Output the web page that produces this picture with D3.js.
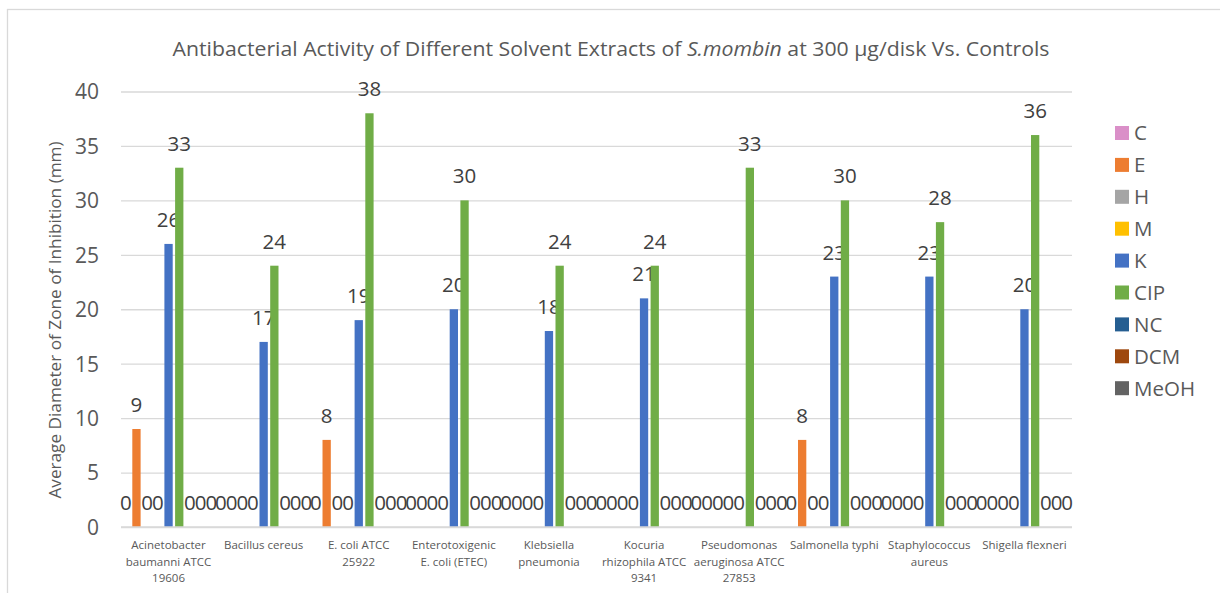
<!DOCTYPE html>
<html>
<head>
<meta charset="utf-8">
<script src="https://cdn.jsdelivr.net/npm/d3@7"></script>
<style>
  html, body { margin: 0; padding: 0; background: #fff; }
  svg { display: block; font-family: "Open Sans", sans-serif; }
</style>
</head>
<body>
<svg id="chart" width="1220" height="593"></svg>
<script>
// Bacterial strains (x-axis labels, pre-wrapped into lines)
const categories = [
  ["Acinetobacter", "baumanni ATCC", "19606"],
  ["Bacillus cereus"],
  ["E. coli ATCC", "25922"],
  ["Enterotoxigenic", "E. coli (ETEC)"],
  ["Klebsiella", "pneumonia"],
  ["Kocuria", "rhizophila ATCC", "9341"],
  ["Pseudomonas", "aeruginosa ATCC", "27853"],
  ["Salmonella typhi"],
  ["Staphylococcus", "aureus"],
  ["Shigella flexneri"]
];

// Extracts and controls
const seriesNames = ["C", "E", "H", "M", "K", "CIP", "NC", "DCM", "MeOH"];
const seriesColors = ["#DA8FC8", "#ED7D31", "#A5A5A5", "#FFC000", "#4472C4", "#70AD47", "#255E91", "#9E480E", "#636363"];

// Zone of inhibition (mm), one array per series, in category order
const C    = [0, 0, 0, 0, 0, 0, 0, 0, 0, 0];
const E    = [9, 0, 8, 0, 0, 0, 0, 8, 0, 0];
const H    = [0, 0, 0, 0, 0, 0, 0, 0, 0, 0];
const M    = [0, 0, 0, 0, 0, 0, 0, 0, 0, 0];
const K    = [26, 17, 19, 20, 18, 21, 0, 23, 23, 20];
const CIP  = [33, 24, 38, 30, 24, 24, 33, 30, 28, 36];
const NC   = [0, 0, 0, 0, 0, 0, 0, 0, 0, 0];
const DCM  = [0, 0, 0, 0, 0, 0, 0, 0, 0, 0];
const MeOH = [0, 0, 0, 0, 0, 0, 0, 0, 0, 0];
const seriesValues = [C, E, H, M, K, CIP, NC, DCM, MeOH];

const yTicks = [0, 5, 10, 15, 20, 25, 30, 35, 40];

const svg = d3.select("#chart");
const plot = { left: 121, right: 1072, top: 91.5, bottom: 527 };

// Chart frame
svg.append("rect")
  .attr("x", 7.5).attr("y", 9.5)
  .attr("width", 1240).attr("height", 600)
  .attr("fill", "#fff").attr("stroke", "#D9D9D9").attr("stroke-width", 1.3);

const catKeys = categories.map((c, i) => i);
const x0 = d3.scaleBand().domain(catKeys).range([plot.left, plot.right]).padding(0);
const x1 = d3.scaleBand().domain(seriesNames).range([0, x0.bandwidth()])
  .paddingInner(0.224).paddingOuter(0.057);
const y = d3.scaleLinear().domain([0, 40]).range([plot.bottom, plot.top]);

// Title
const title = svg.append("text")
  .attr("x", 611).attr("y", 56)
  .attr("text-anchor", "middle")
  .attr("font-size", 20)
  .attr("textLength", 877)
  .attr("lengthAdjust", "spacingAndGlyphs")
  .attr("fill", "#595959");
title.append("tspan").text("Antibacterial Activity of Different Solvent Extracts of ");
title.append("tspan").attr("font-style", "italic").text("S.mombin");
title.append("tspan").text(" at 300 µg/disk Vs. Controls");

// Gridlines
const yAxis = d3.axisLeft(y).tickValues(yTicks)
  .tickSize(-(plot.right - plot.left)).tickPadding(22).tickFormat(d3.format("d"));
const gy = svg.append("g").attr("transform", `translate(${plot.left},0)`).call(yAxis);
gy.select(".domain").remove();
gy.selectAll(".tick line").attr("stroke", "#D9D9D9").attr("stroke-width", 1.3);
gy.selectAll(".tick text")
  .attr("font-family", "Open Sans, sans-serif")
  .attr("font-size", 21).attr("fill", "#595959").attr("dy", "0.35em");

// Y axis title
svg.append("text")
  .attr("transform", `translate(61,320) rotate(-90)`)
  .attr("text-anchor", "middle")
  .attr("font-size", 17.2)
  .attr("fill", "#595959")
  .text("Average Diameter of Zone of Inhibition (mm)");

// Bars
const groups = svg.append("g").selectAll("g")
  .data(catKeys).join("g")
  .attr("transform", i => `translate(${x0(i)},0)`);

const cells = groups.selectAll("g.cell")
  .data(i => seriesNames.map((s, j) => ({ s, j, v: seriesValues[j][i] })))
  .join("g").attr("class", "cell");

cells.append("rect")
  .attr("x", d => x1(d.s))
  .attr("y", d => y(d.v))
  .attr("width", x1.bandwidth())
  .attr("height", d => y(0) - y(d.v))
  .attr("fill", d => seriesColors[d.j]);

// Baseline drawn above the bars
svg.append("line")
  .attr("x1", plot.left).attr("x2", plot.right)
  .attr("y1", y(0)).attr("y2", y(0))
  .attr("stroke", "#D9D9D9").attr("stroke-width", 1.3);

// Value labels
cells.append("text")
  .attr("x", d => x1(d.s) + x1.bandwidth() / 2)
  .attr("y", d => y(d.v) - 17)
  .attr("text-anchor", "middle")
  .attr("font-size", 20.5)
  .attr("fill", "#404040")
  .text(d => d.v);

// Category labels
const xl = svg.append("g");
categories.forEach((lines, i) => {
  const t = xl.append("text")
    .attr("x", x0(i) + x0.bandwidth() / 2)
    .attr("y", 549)
    .attr("text-anchor", "middle")
    .attr("font-size", 11.5)
    .attr("fill", "#595959");
  lines.forEach((ln, k) => {
    t.append("tspan").attr("x", x0(i) + x0.bandwidth() / 2).attr("dy", k === 0 ? 0 : 16.5).text(ln);
  });
});

// Legend
const legend = svg.append("g").attr("transform", "translate(1115,126)");
const li = legend.selectAll("g").data(seriesNames).join("g")
  .attr("transform", (d, i) => `translate(0,${i * 31.9})`);
li.append("rect").attr("width", 14).attr("height", 14)
  .attr("fill", (d, i) => seriesColors[i]);
li.append("text").attr("x", 19).attr("y", 7).attr("dy", "0.36em")
  .attr("font-size", 20.5).attr("fill", "#595959").text(d => d);
</script>
</body>
</html>
